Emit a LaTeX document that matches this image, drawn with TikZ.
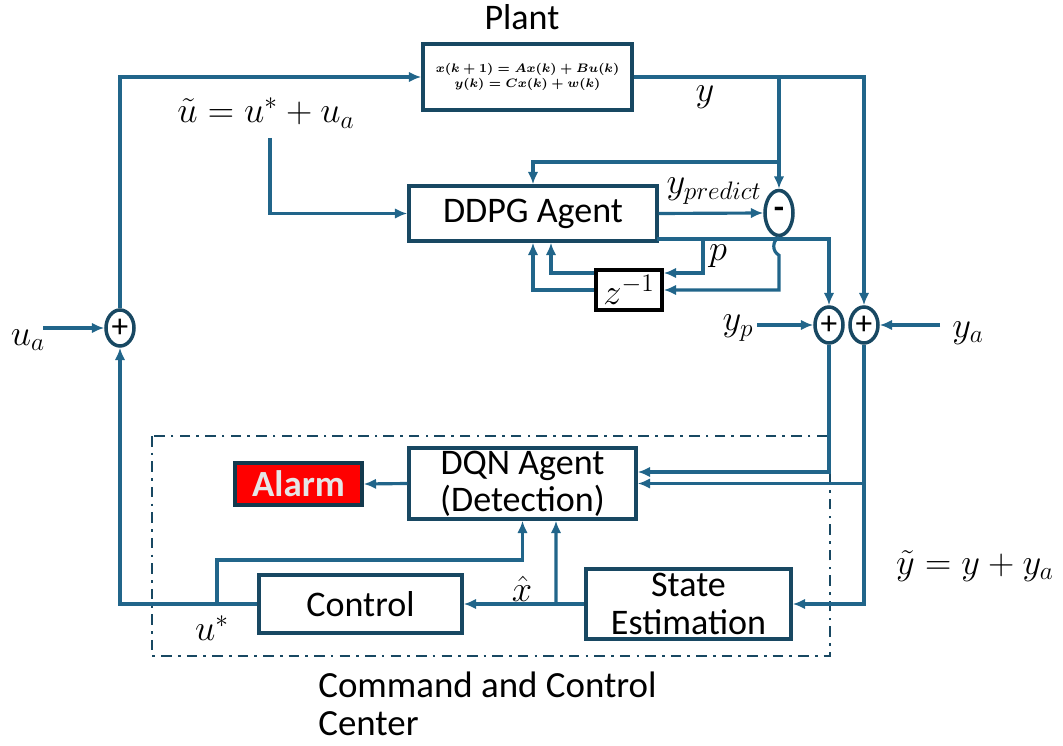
\documentclass[tikz,border=0pt]{standalone}
\usepackage{amsmath,amssymb}
\usepackage[no-math]{fontspec}
\setmainfont{Carlito}
\usepackage{xcolor}
\usepackage{tikz}
\usetikzlibrary{arrows.meta,positioning,calc,shapes.geometric}
\definecolor{linecol}{RGB}{33,101,138}
\definecolor{framecol}{RGB}{24,72,98}
\tikzset{
  box/.style={draw=framecol, line width=2pt, align=center, font=\fontsize{20.5}{21}\selectfont, inner sep=0pt, fill=white},
  eqn/.style={font=\fontsize{7}{9}\selectfont, align=center},
  sumnode/.style={ellipse, draw=framecol, line width=2pt, minimum width=0.56cm, minimum height=0.72cm, inner sep=0pt, font=\fontsize{19}{19}\selectfont},
  alarmbox/.style={box, fill=red, draw=framecol!80!black, text=white!90!black, font=\fontsize{21}{21}\selectfont\bfseries},
  arr/.style={-{Latex[length=7pt,width=6pt]}, draw=linecol, line width=1.8pt},
  lbl/.style={font=\fontsize{22}{24}\selectfont, inner sep=0pt},
  note/.style={font=\fontsize{21}{21.5}\selectfont, align=left, inner sep=0pt}}
\begin{document}
\begin{tikzpicture}[x=0.02cm, y=-0.02cm]
  \useasboundingbox (0,0) rectangle (1063,746);
  % blocks
  \node[box, minimum width=4.18cm, minimum height=1.32cm] (plant) at (527.5,77) {};
  \node[eqn] (planteq) at (plant.center) {$\boldsymbol{x(k+1)=Ax(k)+Bu(k)}$\\$\boldsymbol{y(k)=Cx(k)+w(k)}$};
  \node[lbl, font=\fontsize{20.5}{21}\selectfont] (plantlbl) at (522,17) {Plant};
  \node[box, minimum width=4.96cm, minimum height=1.1cm] (ddpg) at (533,213.5) {DDPG Agent};
  \node[box, draw=black, minimum width=1.32cm, minimum height=0.8cm, font=\fontsize{20}{20}\selectfont] (zinv) at (629,290) {$z^{-1}$};
  \node[box, minimum width=4.54cm, minimum height=1.42cm] (dqn) at (522.5,483.5) {DQN Agent\\(Detection)};
  \node[alarmbox, minimum width=2.54cm, minimum height=0.84cm] (alarm) at (298.5,484) {Alarm};
  \node[box, minimum width=4.06cm, minimum height=1.16cm] (control) at (360.5,604) {Control};
  \node[box, minimum width=4.1cm, minimum height=1.4cm, font=\fontsize{20.5}{22}\selectfont] (stateest) at (688.5,604) {State\\Estimation};
  \node[sumnode, minimum height=0.9cm] (minus) at (779,213) {\bfseries -};
  \node[sumnode] (ypsum) at (829,325) {+};
  \node[sumnode] (yasum) at (864,325) {+};
  \node[sumnode] (uasum) at (120,328) {+};
  \draw[framecol, line width=1.6pt, dash pattern=on 6pt off 3.5pt on 1.5pt off 3.5pt] (152,436) rectangle (830,656);
  % plant loop
  \coordinate (uain) at (43,328); \coordinate (ytap) at (779,77); \coordinate (ddpgfb) at (779,162);
  \draw[arr] (uain) -- (uasum.west); \node[lbl] (ualbl) at (28,340) {$u_a$};
  \draw[arr] (uasum.north) |- (plant.west);
  \draw[arr] (plant.east) -| (yasum.north); \node[lbl] (ylbl) at (705,97) {$y$};
  \draw[arr] (ytap) -- (minus.north);
  \draw[arr] (ddpgfb) -| (ddpg.north);
  \node[lbl] (utilde) at (266,113) {$\tilde{u}=u^{*}+u_a$};
  \coordinate (ucorner) at (270,138);
  \draw[arr] (ucorner) |- (ddpg.west);
  % DDPG outputs
  \draw[arr] (ddpg.east) -- (minus.west); \node[lbl] (yplbl) at (714,191) {$y_{predict}$};
  \coordinate (pout) at (657,239); \coordinate (ptap) at (703,239);
  \draw[arr] (pout) -| (ypsum.north); \node[lbl] (plbl) at (718,256) {$p$};
  \draw[arr] (ptap) |- ($(zinv.east)+(0,-17)$);
  \draw[arr] (minus.south) .. controls ($(minus.south)+(-7,4)$) and ($(minus.south)+(-7,14)$) .. ($(minus.south)+(0,18)$) |- (zinv.east);
  \draw[arr] ($(zinv.west)+(0,-17)$) -| ($(ddpg.south)+(18,0)$);
  \draw[arr] (zinv.west) -| (ddpg.south);
  % sums
  \coordinate (ypin) at (757,325); \coordinate (yain) at (940,325);
  \draw[arr] (ypin) -- (ypsum.west); \node[lbl] (yplabel) at (738,328) {$y_p$};
  \draw[arr] (yain) -- (yasum.east); \node[lbl] (yalabel) at (968,333) {$y_a$};
  \draw[arr] (ypsum.south) |- ($(dqn.east)+(0,-11.5)$);
  \draw[arr] (yasum.south) |- (stateest.east);
  \draw[arr] (yasum.south |- dqn.east) -- (dqn.east);
  \node[lbl] (ytilde) at (975,566) {$\tilde{y}=y+y_a$};
  % command and control center
  \draw[arr] (dqn.west) -- (alarm.east);
  \draw[arr] (stateest.west) -- (control.east); \node[lbl] (xhat) at (522,589) {$\hat{x}$};
  \coordinate (xtap) at (556,604);
  \draw[arr] (xtap) -- ($(dqn.south)+(33.5,0)$);
  \draw[arr] (control.west) -| (uasum.south);
  \coordinate (utap) at (217,604);
  \draw[arr] (utap) -- ++(0,-44) -| (dqn.south); \node[lbl] (ustar) at (212,628) {$u^{*}$};
  \node[note, anchor=west] (cclbl) at (318,704) {Command and Control\\Center};
\end{tikzpicture}
\end{document}
